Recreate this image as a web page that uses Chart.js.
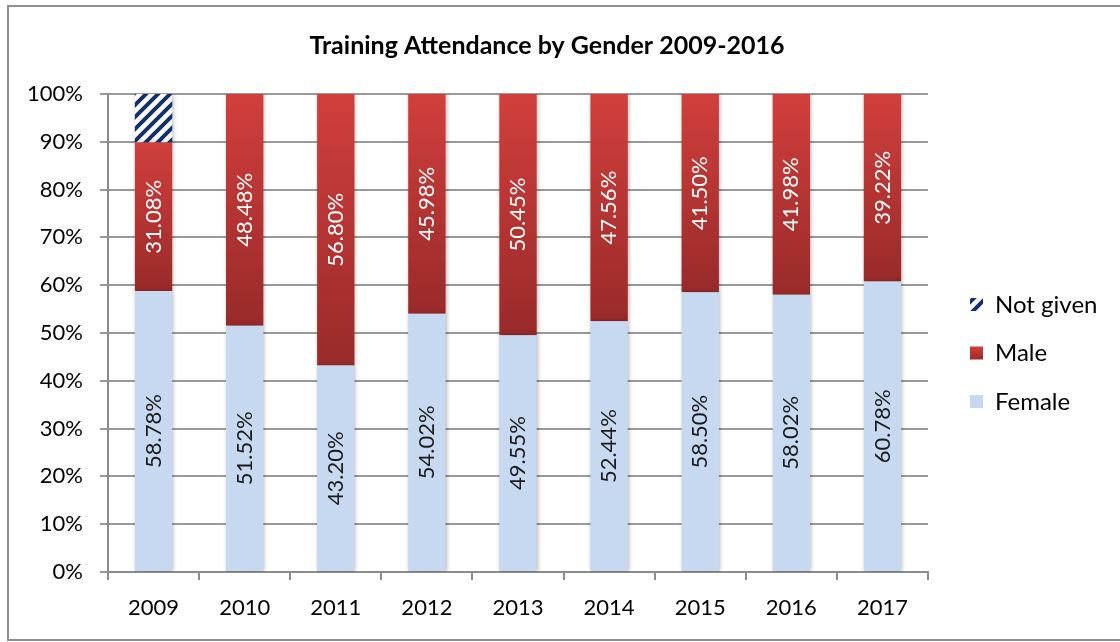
<!DOCTYPE html>
<html>
<head>
<meta charset="utf-8">
<script src="https://cdn.jsdelivr.net/npm/chart.js@4"></script>
<style>
    html, body { margin: 0; padding: 0; background: #fff; }
    #wrap { position: relative; width: 1120px; height: 642px; overflow: hidden; }
    #frame { position: absolute; left: 7px; top: 5px; width: 1200px; height: 632px; border: 2px solid #8f8f8f; border-right: none; }
    #chart { position: absolute; left: 0; top: 0; }
</style>
</head>
<body>
<div id="wrap">
    <div id="frame"></div>
    <canvas id="chart" width="1120" height="642"></canvas>
</div>
<script>
const years = ['2009', '2010', '2011', '2012', '2013', '2014', '2015', '2016', '2017'];
const female = [58.78, 51.52, 43.20, 54.02, 49.55, 52.44, 58.50, 58.02, 60.78];
const male = [31.08, 48.48, 56.80, 45.98, 50.45, 47.56, 41.50, 41.98, 39.22];
const notGiven = [10.14, 0, 0, 0, 0, 0, 0, 0, 0];

const FONT = 'Lato, "Open Sans", sans-serif';

// diagonal stripes for the "Not given" segment
function stripePattern() {
    const c = document.createElement('canvas');
    c.width = 12;
    c.height = 12;
    const g = c.getContext('2d');
    g.fillStyle = '#ffffff';
    g.fillRect(0, 0, 12, 12);
    g.strokeStyle = '#14306b';
    g.lineWidth = 4;
    g.beginPath();
    g.moveTo(-3, 15); g.lineTo(15, -3);
    g.moveTo(-9, 9); g.lineTo(9, -9);
    g.moveTo(3, 21); g.lineTo(21, 3);
    g.stroke();
    return g.createPattern(c, 'repeat');
}

// red gradient, lighter at the top of each bar
function maleFill(ctx) {
    const chart = ctx.chart;
    if (ctx.type !== 'data' || !chart.chartArea) return '#bd3634';
    const y = chart.scales.y;
    const i = ctx.dataIndex;
    const top = y.getPixelForValue(female[i] + male[i]);
    const bottom = y.getPixelForValue(female[i]);
    const grad = chart.ctx.createLinearGradient(0, top, 0, bottom);
    grad.addColorStop(0, '#d13f3c');
    grad.addColorStop(1, '#992a2a');
    return grad;
}

const valueLabels = {
    id: 'valueLabels',
    afterDatasetsDraw(chart) {
        const ctx = chart.ctx;
        [0, 1].forEach(d => {
            const meta = chart.getDatasetMeta(d);
            const values = chart.data.datasets[d].data;
            meta.data.forEach((bar, i) => {
                if (!values[i]) return;
                ctx.save();
                ctx.translate(bar.x, (bar.y + bar.base) / 2);
                ctx.rotate(-Math.PI / 2);
                ctx.font = '22px ' + FONT;
                ctx.fillStyle = d === 0 ? '#1a1a1a' : '#ffffff';
                ctx.textAlign = 'center';
                ctx.textBaseline = 'middle';
                ctx.fillText(values[i].toFixed(2) + '%', 0, 0);
                ctx.restore();
            });
        });
    }
};

const barShadow = {
    id: 'barShadow',
    beforeDatasetsDraw(chart) {
        const ctx = chart.ctx;
        ctx.save();
        ctx.shadowColor = 'rgba(0,0,0,0.28)';
        ctx.shadowBlur = 4;
        ctx.shadowOffsetX = 1;
    },
    afterDatasetsDraw(chart) {
        chart.ctx.restore();
    }
};

// legend to the right of the plot, last series on top
const sideLegend = {
    id: 'sideLegend',
    afterDraw(chart) {
        const ctx = chart.ctx;
        const area = chart.chartArea;
        const x = area.right + 42;
        let y = 305;
        ctx.save();
        ctx.font = '24px ' + FONT;
        ctx.textBaseline = 'middle';
        ctx.textAlign = 'left';
        for (let d = chart.data.datasets.length - 1; d >= 0; d--) {
            const ds = chart.data.datasets[d];
            let fill = ds.backgroundColor;
            if (typeof fill === 'function') {
                const g = ctx.createLinearGradient(0, y - 7, 0, y + 7);
                g.addColorStop(0, '#d13f3c');
                g.addColorStop(1, '#992a2a');
                fill = g;
            }
            ctx.fillStyle = fill;
            ctx.fillRect(x, y - 7, 13, 13);
            ctx.fillStyle = '#000';
            ctx.fillText(ds.label, x + 25, y);
            y += 48.5;
        }
        ctx.restore();
    }
};

new Chart(document.getElementById('chart').getContext('2d'), {
    type: 'bar',
    data: {
        labels: years,
        datasets: [
            {
                label: 'Female',
                data: female,
                backgroundColor: '#c6d9f0',
                borderWidth: 0
            },
            {
                label: 'Male',
                data: male,
                backgroundColor: maleFill,
                borderWidth: 0
            },
            {
                label: 'Not given',
                data: notGiven,
                backgroundColor: stripePattern(),
                borderWidth: 0
            }
        ]
    },
    options: {
        responsive: false,
        animation: false,
        layout: {
            padding: { left: 8, right: 34, top: 0, bottom: 0 }
        },
        datasets: {
            bar: { barPercentage: 0.41, categoryPercentage: 1 }
        },
        plugins: {
            title: {
                display: true,
                text: 'Training Attendance by Gender 2009-2016',
                color: '#000',
                font: { family: FONT, size: 25, weight: 'bold' },
                padding: { top: 31, bottom: 33 }
            },
            legend: { display: false },
            tooltip: { enabled: false }
        },
        scales: {
            x: {
                stacked: true,
                grid: {
                    drawOnChartArea: false,
                    offset: true,
                    tickLength: 8,
                    color: '#8c8c8c',
                    lineWidth: 2
                },
                border: { color: '#8c8c8c', width: 2 },
                ticks: {
                    color: '#000',
                    font: { family: FONT, size: 22 },
                    padding: 15
                },
                afterFit(scale) { scale.height = 70; }
            },
            y: {
                stacked: true,
                min: 0,
                max: 100,
                grid: {
                    color: '#999999',
                    lineWidth: 2,
                    tickLength: 8
                },
                border: { color: '#8c8c8c', width: 2 },
                ticks: {
                    stepSize: 10,
                    color: '#000',
                    font: { family: FONT, size: 22 },
                    padding: 17,
                    callback: v => v + '%'
                },
                afterFit(scale) { scale.width = 100; }
            },
            // empty right-hand axis that only reserves room for the legend
            side: {
                position: 'right',
                grid: { display: false },
                border: { display: false },
                ticks: { display: false },
                afterFit(scale) { scale.width = 158; }
            }
        }
    },
    plugins: [barShadow, valueLabels, sideLegend]
});
</script>
</body>
</html>
